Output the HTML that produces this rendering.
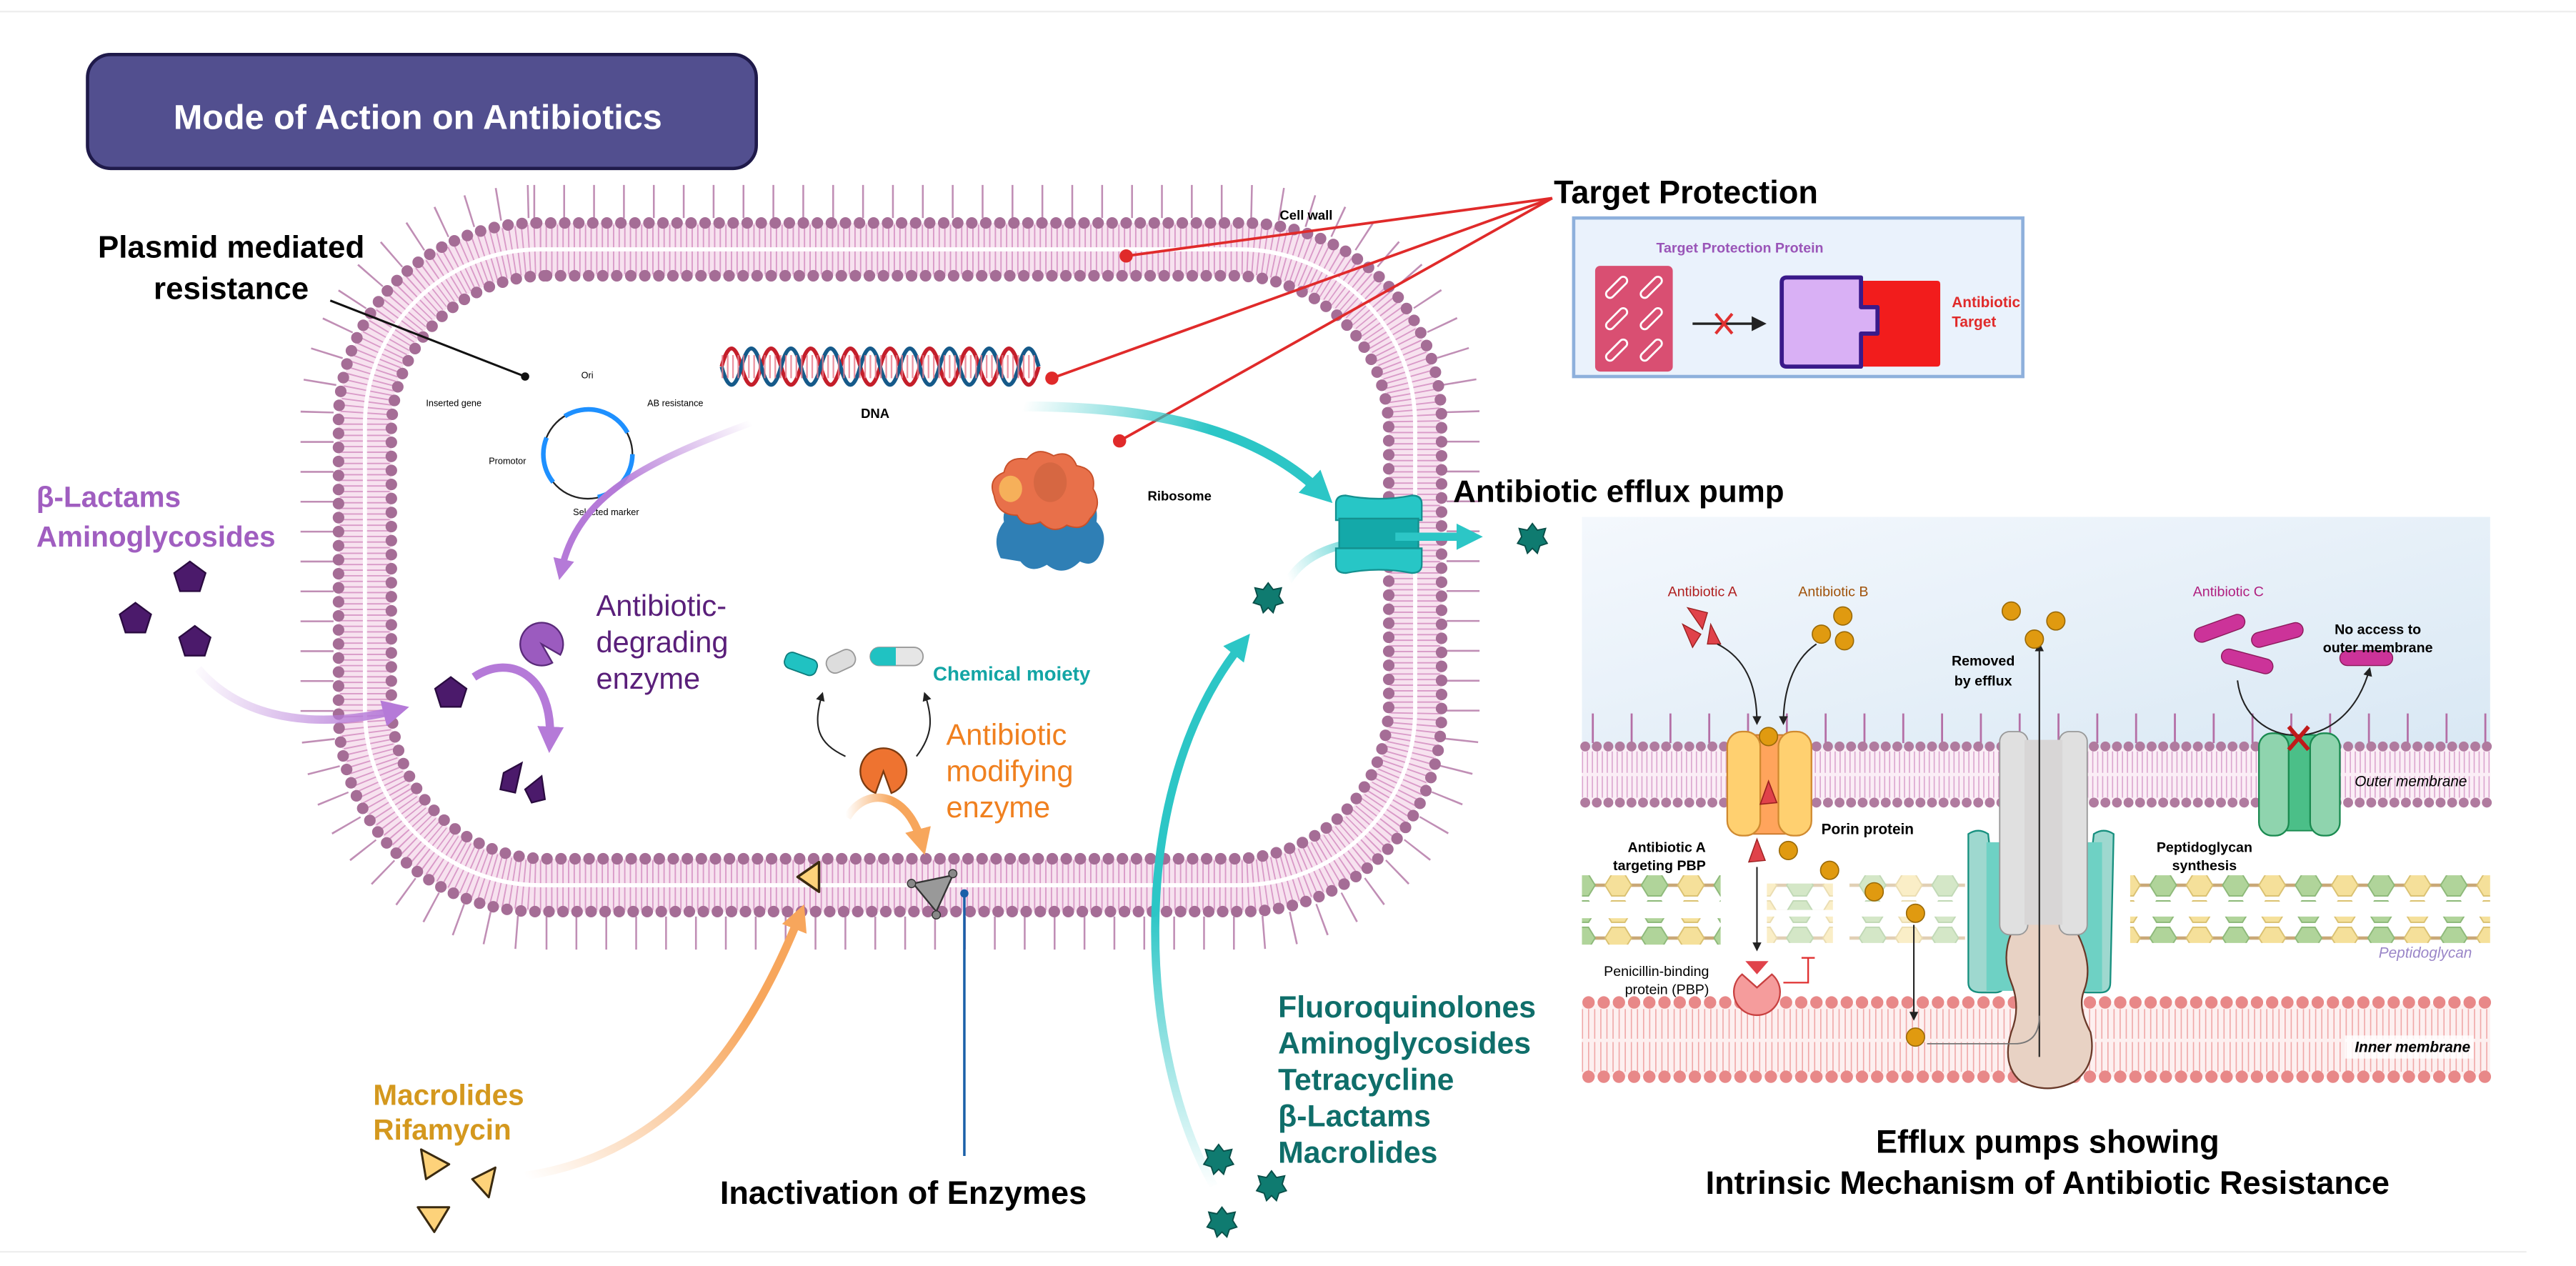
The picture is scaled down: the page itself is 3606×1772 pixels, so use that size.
<!DOCTYPE html>
<html><head><meta charset="utf-8"><style>
html,body{margin:0;padding:0;background:#fff;}
svg{display:block;}
text{font-family:"Liberation Sans",sans-serif;}
</style></head><body>
<svg width="3606" height="1772" viewBox="0 0 1560 766.6" preserveAspectRatio="none" xmlns="http://www.w3.org/2000/svg">
<defs>
<marker id="mk" viewBox="0 0 10 10" refX="8" refY="5" markerWidth="6" markerHeight="6" orient="auto"><path d="M0,0L10,5L0,10z" fill="#222"/></marker>
<marker id="mp" viewBox="0 0 10 10" refX="5" refY="5" markerWidth="3.2" markerHeight="3.2" orient="auto"><path d="M0,0L10,5L0,10z" fill="#b57ad8"/></marker>
<marker id="mo" viewBox="0 0 10 10" refX="5" refY="5" markerWidth="3.2" markerHeight="3.2" orient="auto"><path d="M0,0L10,5L0,10z" fill="#f7a65c"/></marker>
<marker id="mt" viewBox="0 0 10 10" refX="5" refY="5" markerWidth="3.2" markerHeight="3.2" orient="auto"><path d="M0,0L10,5L0,10z" fill="#2cc6c6"/></marker>
<linearGradient id="gp" gradientUnits="userSpaceOnUse" x1="115" y1="405" x2="245" y2="430"><stop offset="0" stop-color="#b57ad8" stop-opacity="0"/><stop offset="1" stop-color="#b57ad8"/></linearGradient>
<linearGradient id="gp2" gradientUnits="userSpaceOnUse" x1="455" y1="256" x2="340" y2="350"><stop offset="0" stop-color="#b57ad8" stop-opacity="0"/><stop offset=".6" stop-color="#b57ad8"/></linearGradient>
<linearGradient id="go" gradientUnits="userSpaceOnUse" x1="318" y1="712" x2="488" y2="548"><stop offset="0" stop-color="#f7a65c" stop-opacity="0"/><stop offset=".7" stop-color="#f7a65c"/></linearGradient>
<linearGradient id="go2" gradientUnits="userSpaceOnUse" x1="512" y1="500" x2="560" y2="500"><stop offset="0" stop-color="#f7a65c" stop-opacity="0"/><stop offset=".6" stop-color="#f7a65c"/></linearGradient>
<linearGradient id="gt" gradientUnits="userSpaceOnUse" x1="620" y1="245" x2="800" y2="300"><stop offset="0" stop-color="#2cc6c6" stop-opacity="0"/><stop offset=".6" stop-color="#2cc6c6"/></linearGradient>
<linearGradient id="gt2" gradientUnits="userSpaceOnUse" x1="735" y1="720" x2="760" y2="390"><stop offset="0" stop-color="#2cc6c6" stop-opacity="0"/><stop offset=".5" stop-color="#2cc6c6"/></linearGradient>
<linearGradient id="gt3" gradientUnits="userSpaceOnUse" x1="780" y1="350" x2="840" y2="325"><stop offset="0" stop-color="#2cc6c6" stop-opacity="0"/><stop offset="1" stop-color="#2cc6c6"/></linearGradient>
<linearGradient id="gbg" x1="0" y1="0" x2="1" y2="1"><stop offset="0" stop-color="#f4f8fd"/><stop offset="1" stop-color="#d9e8f4"/></linearGradient>
<pattern id="hexA" x="0" y="0" width="44" height="16" patternUnits="userSpaceOnUse">
<line x1="0" y1="8" x2="44" y2="8" stroke="#c9a877" stroke-width="2"/>
<polygon points="4,8 8,1.5 16,1.5 20,8 16,14.5 8,14.5" fill="#f5e09a" stroke="#d9c070" stroke-width=".8"/>
<polygon points="26,8 30,1.5 38,1.5 42,8 38,14.5 30,14.5" fill="#b0d49a" stroke="#8cb878" stroke-width=".8"/>
</pattern>
<g id="star"><polygon points="0,-9 3,-5 8,-6 6.5,-1 9,3 4.5,4.5 3,9 0,6 -3,9 -4.5,4.5 -9,3 -6.5,-1 -8,-6 -3,-5" fill="#0f7b70" stroke="#094e48" stroke-width=".8"/></g>
<g id="pent"><polygon points="0,-10 9.5,-3 6,8 -6,8 -9.5,-3" fill="#4b1a6b" stroke="#2a0b40" stroke-width="1"/></g>
</defs>

<line x1="0" y1="7" x2="1560" y2="7" stroke="#eee" stroke-width="1"/>
<line x1="0" y1="758" x2="1530" y2="758" stroke="#eee" stroke-width="1"/>

<!-- Title -->
<rect x="53" y="33" width="405" height="69" rx="14" fill="#524f8f" stroke="#1f1a4a" stroke-width="2"/>
<text x="253" y="78" text-anchor="middle" font-size="21" font-weight="bold" fill="#fff">Mode of Action on Antibiotics</text>

<!-- Cell membrane -->
<rect x="192" y="122" width="694" height="443" rx="131" fill="none" stroke="#b57aa8" stroke-width="20" stroke-dasharray="1.1 17" stroke-opacity=".85"/>
<rect x="203" y="133" width="672" height="421" rx="120" fill="#fff" stroke="none"/>
<rect x="221" y="151" width="636" height="385" rx="106" fill="none" stroke="#f7e2ef" stroke-width="32"/>
<rect x="221" y="151" width="636" height="385" rx="106" fill="none" stroke="#d99ac8" stroke-width="30" stroke-dasharray=".8 2.6"/>
<rect x="221" y="151" width="636" height="385" rx="106" fill="none" stroke="#fff" stroke-width="2.5"/>
<rect x="205" y="135" width="668" height="417" rx="120" fill="none" stroke="#a56d96" stroke-width="7" stroke-dasharray="0 8.5" stroke-linecap="round"/>
<rect x="237" y="167" width="604" height="353" rx="94" fill="#fff" stroke="#a56d96" stroke-width="7" stroke-dasharray="0 8.5" stroke-linecap="round"/>
<text x="775" y="133" font-size="8" font-weight="bold">Cell wall</text>

<!-- Plasmid -->
<text x="140" y="156" text-anchor="middle" font-size="19" font-weight="bold">Plasmid mediated</text>
<text x="140" y="181" text-anchor="middle" font-size="19" font-weight="bold">resistance</text>
<line x1="200" y1="182" x2="318" y2="228" stroke="#111" stroke-width="1.3"/>
<circle cx="318" cy="228" r="2.5" fill="#111"/>
<circle cx="356" cy="275" r="27" fill="none" stroke="#222" stroke-width="1"/>
<path d="M342,252 A27,27 0 0 1 380,262" fill="none" stroke="#1e90ff" stroke-width="2.8"/>
<path d="M383,275 A27,27 0 0 1 362,301" fill="none" stroke="#1e90ff" stroke-width="2.8"/>
<path d="M335,292 A27,27 0 0 1 331,265" fill="none" stroke="#1e90ff" stroke-width="2.8"/>
<text x="352" y="229" font-size="5.5">Ori</text>
<text x="258" y="246" font-size="5.5">Inserted gene</text>
<text x="392" y="246" font-size="5.5">AB resistance</text>
<text x="296" y="281" font-size="5.5">Promotor</text>
<text x="347" y="312" font-size="5.5">Selected marker</text>

<!-- DNA -->
<g fill="none" stroke-width="2.4">
<path d="M437,222 q6,-22 12,0 t12,0 t12,0 t12,0 t12,0 t12,0 t12,0 t12,0 t12,0 t12,0 t12,0 t12,0 t12,0 t12,0 t12,0 t12,0" stroke="#c41e2a"/>
<path d="M437,222 q6,22 12,0 t12,0 t12,0 t12,0 t12,0 t12,0 t12,0 t12,0 t12,0 t12,0 t12,0 t12,0 t12,0 t12,0 t12,0 t12,0" stroke="#155a8a"/>
</g>
<line x1="437" y1="222" x2="629" y2="222" stroke="#e87a8a" stroke-width="14" stroke-dasharray="1 2.2" opacity=".8"/>
<text x="530" y="253" text-anchor="middle" font-size="8" font-weight="bold">DNA</text>

<!-- Target protection lines -->
<g stroke="#e02a2a" stroke-width="1.6">
<line x1="682" y1="155" x2="940" y2="120"/>
<line x1="637" y1="229" x2="940" y2="120"/>
<line x1="678" y1="267" x2="940" y2="120"/>
</g>
<circle cx="682" cy="155" r="4" fill="#e02a2a"/>
<circle cx="637" cy="229" r="4" fill="#e02a2a"/>
<circle cx="678" cy="267" r="4" fill="#e02a2a"/>

<!-- Ribosome -->
<g>
<path d="M606,318 q-6,-12 2,-22 q-2,-10 10,-12 q6,-10 18,-4 q10,-6 18,2 q12,0 10,14 q8,8 2,20 q-4,8 -12,4 q-10,10 -20,2 q-10,6 -16,-2z" fill="#2f7fb5" transform="translate(0,20)"/>
<path d="M602,300 q-4,-10 6,-14 q2,-10 14,-8 q6,-8 16,-2 q10,-4 14,6 q12,2 10,14 q6,10 -2,18 q-4,8 -14,4 q-8,6 -16,-2 q-10,4 -14,-4 q-12,0 -14,-12z" fill="#e8704a" stroke="#c8502a" stroke-width=".8"/>
<ellipse cx="612" cy="296" rx="7" ry="8" fill="#f6b05a"/>
<ellipse cx="636" cy="292" rx="10" ry="12" fill="#c9603e" opacity=".6"/>
</g>
<text x="695" y="303" font-size="8" font-weight="bold">Ribosome</text>

<!-- Teal arrows -->
<path d="M618,246 C700,246 760,260 800,298" fill="none" stroke="url(#gt)" stroke-width="6" marker-end="url(#mt)"/>
<path d="M735,718 C690,640 680,480 752,390" fill="none" stroke="url(#gt2)" stroke-width="5" marker-end="url(#mt)"/>
<path d="M780,352 C790,335 810,328 840,326" fill="none" stroke="url(#gt3)" stroke-width="5"/>
<g stroke="#14908f" stroke-width="1">
<path d="M809,305 q0,-5 6,-5 q20,4 40,0 q6,0 6,5 v10 h-52z" fill="#27c6c6"/>
<rect x="811" y="314" width="48" height="18" fill="#14a9a9"/>
<path d="M809,332 h52 v10 q0,5 -6,5 q-20,-4 -40,0 q-6,0 -6,-5z" fill="#27c6c6"/>
</g>
<line x1="845" y1="325" x2="890" y2="325" stroke="#2cc6c6" stroke-width="5" marker-end="url(#mt)"/>
<use href="#star" x="928" y="326"/>
<use href="#star" x="768" y="362"/>
<use href="#star" x="738" y="702"/>
<use href="#star" x="770" y="718"/>
<use href="#star" x="740" y="740"/>
<text x="880" y="304" font-size="19" font-weight="bold">Antibiotic efflux pump</text>

<g font-size="18.5" font-weight="bold" fill="#0f6e6a">
<text x="774" y="616">Fluoroquinolones</text>
<text x="774" y="638">Aminoglycosides</text>
<text x="774" y="660">Tetracycline</text>
<text x="774" y="682">β-Lactams</text>
<text x="774" y="704">Macrolides</text>
</g>

<!-- Beta-lactams -->
<g font-size="17.5" font-weight="bold" fill="#a05ec0">
<text x="22" y="307">β-Lactams</text>
<text x="22" y="331">Aminoglycosides</text>
</g>
<use href="#pent" x="115" y="350"/>
<use href="#pent" x="82" y="375"/>
<use href="#pent" x="118" y="389"/>
<path d="M120,405 C150,440 200,440 240,430" fill="none" stroke="url(#gp)" stroke-width="5" marker-end="url(#mp)"/>
<use href="#pent" x="273" y="420"/>
<path d="M287,410 C310,395 335,410 333,448" fill="none" stroke="#b57ad8" stroke-width="5" marker-end="url(#mp)"/>
<polygon points="305,468 316,462 312,480 303,478" fill="#4b1a6b" stroke="#2a0b40"/>
<polygon points="318,478 328,470 330,484 322,486" fill="#4b1a6b" stroke="#2a0b40"/>
<path d="M455,256 C390,280 350,300 340,345" fill="none" stroke="url(#gp2)" stroke-width="4" marker-end="url(#mp)"/>
<path d="M328,390 L339.3,396.5 A13,13 0 1 0 334.5,401.3 Z" fill="#9b5bbf" stroke="#5a2a7a" stroke-width="1"/>
<g font-size="18" fill="#5a1f7a">
<text x="361" y="373">Antibiotic-</text>
<text x="361" y="395">degrading</text>
<text x="361" y="417">enzyme</text>
</g>

<!-- Modifying enzyme -->
<g>
<rect x="475" y="397" width="20" height="10" rx="4" fill="#20c2c2" stroke="#0e7d7d" stroke-width=".8" transform="rotate(20 485 402)"/>
<rect x="500" y="395" width="18" height="11" rx="5" fill="#ddd" stroke="#999" stroke-width=".8" transform="rotate(-25 509 400)"/>
<rect x="527" y="392" width="32" height="11" rx="5.5" fill="#e6e6e6" stroke="#999" stroke-width=".8"/>
<path d="M532.5,392 h10 v11 h-10 a5.5,5.5 0 0 1 0,-11z" fill="#20c2c2"/>
</g>
<text x="565" y="412" font-size="12" font-weight="bold" fill="#13a5a5">Chemical moiety</text>
<path d="M512,458 C495,450 492,440 498,420" fill="none" stroke="#222" stroke-width=".9" marker-end="url(#mk)"/>
<path d="M555,458 C565,445 565,435 560,420" fill="none" stroke="#222" stroke-width=".9" marker-end="url(#mk)"/>
<path d="M535,467 L530.2,480.2 A14,14 0 1 1 539.8,480.2 Z" fill="#ee7330" stroke="#7a3a10" stroke-width="1"/>
<g font-size="18" fill="#f0801f">
<text x="573" y="451">Antibiotic</text>
<text x="573" y="473">modifying</text>
<text x="573" y="495">enzyme</text>
</g>
<path d="M513,495 C525,475 550,480 558,510" fill="none" stroke="url(#go2)" stroke-width="5" marker-end="url(#mo)"/>
<polygon points="496,522 496,540 483,531" fill="#fdd27a" stroke="#3a2a10" stroke-width="1.5" stroke-linejoin="round"/>
<polygon points="553,535 577,530 567,552" fill="#999" stroke="#333" stroke-width="1"/>
<circle cx="552" cy="535" r="2.5" fill="#888" stroke="#333" stroke-width=".6"/>
<circle cx="577" cy="529" r="2.5" fill="#888" stroke="#333" stroke-width=".6"/>
<circle cx="567" cy="554" r="2.5" fill="#888" stroke="#333" stroke-width=".6"/>
<line x1="584" y1="541" x2="584" y2="700" stroke="#1a5fa8" stroke-width="1.5"/>
<circle cx="584" cy="541" r="2.5" fill="#1a5fa8"/>
<text x="436" y="729" font-size="19.5" font-weight="bold">Inactivation of Enzymes</text>

<!-- Macrolides -->
<g font-size="17.5" font-weight="bold" fill="#d4981e">
<text x="226" y="669">Macrolides</text>
<text x="226" y="690">Rifamycin</text>
</g>
<polygon points="255,696 272,705 258,714" fill="#fdd27a" stroke="#3a2a10" stroke-width="1.3" stroke-linejoin="round"/>
<polygon points="300,707 296,725 286,714" fill="#fdd27a" stroke="#3a2a10" stroke-width="1.3" stroke-linejoin="round"/>
<polygon points="253,731 272,731 263,746" fill="#fdd27a" stroke="#3a2a10" stroke-width="1.3" stroke-linejoin="round"/>
<path d="M318,712 C400,700 450,640 484,555" fill="none" stroke="url(#go)" stroke-width="5" marker-end="url(#mo)"/>

<!-- Target Protection -->
<text x="941" y="123" font-size="19.5" font-weight="bold">Target Protection</text>
<rect x="953" y="132" width="272" height="96" fill="#eaf2fc" stroke="#8eb0dc" stroke-width="2"/>
<text x="1003" y="153" font-size="8.5" font-weight="bold" fill="#9a55b8">Target Protection Protein</text>
<rect x="966" y="161" width="47" height="64" rx="3" fill="#d94f72"/>
<g stroke="#fff" stroke-width="6" stroke-linecap="round">
<line x1="975" y1="178" x2="983" y2="170"/><line x1="996" y1="178" x2="1004" y2="170"/>
<line x1="975" y1="197" x2="983" y2="189"/><line x1="996" y1="197" x2="1004" y2="189"/>
<line x1="975" y1="216" x2="983" y2="208"/><line x1="996" y1="216" x2="1004" y2="208"/>
</g>
<g stroke="#d94f72" stroke-width="3.6" stroke-linecap="round">
<line x1="975" y1="178" x2="983" y2="170"/><line x1="996" y1="178" x2="1004" y2="170"/>
<line x1="975" y1="197" x2="983" y2="189"/><line x1="996" y1="197" x2="1004" y2="189"/>
<line x1="975" y1="216" x2="983" y2="208"/><line x1="996" y1="216" x2="1004" y2="208"/>
</g>
<line x1="1025" y1="196" x2="1068" y2="196" stroke="#222" stroke-width="1.5" marker-end="url(#mk)"/>
<path d="M1039,190 l10,12 M1049,190 l-10,12" stroke="#e03030" stroke-width="1.8"/>
<path d="M1128,170 h45 q2,0 2,2 v48 q0,2 -2,2 h-45 v-20 h10 v-12 h-10z" fill="#f21c1c"/>
<path d="M1082,168 h45 v18 h10 v16 h-10 v20 h-45 q-3,0 -3,-3 v-48 q0,-3 3,-3z" fill="#d9b0f5" stroke="#3a1a8a" stroke-width="2.5" stroke-linejoin="round"/>
<text x="1182" y="186" font-size="9" font-weight="bold" fill="#e02a2a">Antibiotic</text>
<text x="1182" y="198" font-size="9" font-weight="bold" fill="#e02a2a">Target</text>

<!-- Right panel -->
<rect x="958" y="313" width="550" height="142" fill="url(#gbg)"/>
<line x1="960" y1="441" x2="1508" y2="441" stroke="#b46fa6" stroke-width="18" stroke-dasharray="1.2 22.3" stroke-dashoffset="-4"/>
<rect x="958" y="453" width="550" height="32" fill="#fbeef6"/>
<line x1="958" y1="469" x2="1508" y2="469" stroke="#dba6cf" stroke-width="28" stroke-dasharray=".7 2.3"/>
<line x1="958" y1="469" x2="1508" y2="469" stroke="#fbeef6" stroke-width="2"/>
<line x1="960" y1="452" x2="1508" y2="452" stroke="#b07b9f" stroke-width="6" stroke-dasharray="0 7" stroke-linecap="round"/>
<line x1="960" y1="486" x2="1508" y2="486" stroke="#b07b9f" stroke-width="6" stroke-dasharray="0 7" stroke-linecap="round"/>
<text x="1494" y="476" text-anchor="end" font-size="9" font-style="italic">Outer membrane</text>
<!-- peptidoglycan -->
<rect x="958" y="530" width="84" height="16" fill="url(#hexA)"/>
<rect x="958" y="556" width="84" height="16" fill="url(#hexA)"/>
<rect x="1070" y="535" width="40" height="16" fill="url(#hexA)" opacity=".55"/>
<rect x="1070" y="555" width="40" height="16" fill="url(#hexA)" opacity=".55"/>
<rect x="1120" y="530" width="70" height="16" fill="url(#hexA)" opacity=".55"/>
<rect x="1120" y="555" width="70" height="16" fill="url(#hexA)" opacity=".55"/>
<rect x="1290" y="530" width="218" height="16" fill="url(#hexA)"/>
<rect x="1290" y="555" width="218" height="16" fill="url(#hexA)"/>
<text x="1497" y="580" text-anchor="end" font-size="9" font-style="italic" fill="#9a86c8">Peptidoglycan</text>
<!-- inner membrane -->
<rect x="958" y="608" width="550" height="44" fill="#fdf0f0"/>
<line x1="958" y1="630" x2="1508" y2="630" stroke="#f0a8a8" stroke-width="38" stroke-dasharray=".7 3"/>
<line x1="958" y1="630" x2="1508" y2="630" stroke="#fdf0f0" stroke-width="2"/>
<line x1="962" y1="607" x2="1508" y2="607" stroke="#e88888" stroke-width="7.5" stroke-dasharray="0 9.2" stroke-linecap="round"/>
<line x1="962" y1="652" x2="1508" y2="652" stroke="#e88888" stroke-width="7.5" stroke-dasharray="0 9.2" stroke-linecap="round"/>
<rect x="1420" y="627" width="78" height="14" fill="#fff" opacity=".8"/>
<text x="1496" y="637" text-anchor="end" font-size="9" font-weight="bold" font-style="italic">Inner membrane</text>

<!-- porin -->
<rect x="1060" y="445" width="22" height="60" fill="#ffa45c" stroke="#c8782a" stroke-width=".8"/>
<rect x="1046" y="443" width="20" height="63" rx="9" fill="#ffd070" stroke="#d08a30" stroke-width="1"/>
<rect x="1077" y="443" width="20" height="63" rx="9" fill="#ffd070" stroke="#d08a30" stroke-width="1"/>
<circle cx="1071" cy="446" r="5.5" fill="#e09a10" stroke="#9a6a08" stroke-width=".7"/>
<polygon points="1071,473 1076,486 1066,487" fill="#e0424a" stroke="#9a2020" stroke-width=".7"/>
<text x="1103" y="505" font-size="9" font-weight="bold">Porin protein</text>
<text x="1010" y="361" font-size="8.5" fill="#b02020">Antibiotic A</text>
<text x="1089" y="361" font-size="8.5" fill="#a0520a">Antibiotic B</text>
<polygon points="1022,368 1034,371 1031,381" fill="#e0424a" stroke="#9a2020" stroke-width=".6"/>
<polygon points="1019,378 1030,384 1025,392" fill="#e0424a" stroke="#9a2020" stroke-width=".6"/>
<polygon points="1036,378 1042,390 1034,390" fill="#e0424a" stroke="#9a2020" stroke-width=".6"/>
<circle cx="1116" cy="373" r="5.5" fill="#e09a10" stroke="#9a6a08" stroke-width=".7"/>
<circle cx="1103" cy="384" r="5.5" fill="#e09a10" stroke="#9a6a08" stroke-width=".7"/>
<circle cx="1117" cy="388" r="5.5" fill="#e09a10" stroke="#9a6a08" stroke-width=".7"/>
<path d="M1040,390 C1060,400 1064,420 1064,438" fill="none" stroke="#222" stroke-width=".9" marker-end="url(#mk)"/>
<path d="M1100,390 C1085,400 1080,420 1080,438" fill="none" stroke="#222" stroke-width=".9" marker-end="url(#mk)"/>
<text x="1033" y="516" text-anchor="end" font-size="8.5" font-weight="bold">Antibiotic A</text>
<text x="1033" y="527" text-anchor="end" font-size="8.5" font-weight="bold">targeting PBP</text>
<polygon points="1064,508 1069,521 1059,522" fill="#e0424a" stroke="#9a2020" stroke-width=".6"/>
<circle cx="1083" cy="515" r="5.5" fill="#e09a10" stroke="#9a6a08" stroke-width=".7"/>
<circle cx="1108" cy="527" r="5.5" fill="#e09a10" stroke="#9a6a08" stroke-width=".7"/>
<circle cx="1135" cy="540" r="5.5" fill="#e09a10" stroke="#9a6a08" stroke-width=".7"/>
<circle cx="1160" cy="553" r="5.5" fill="#e09a10" stroke="#9a6a08" stroke-width=".7"/>
<circle cx="1160" cy="628" r="5.5" fill="#e09a10" stroke="#9a6a08" stroke-width=".7"/>
<line x1="1064" y1="525" x2="1064" y2="575" stroke="#222" stroke-width=".9" marker-end="url(#mk)"/>
<line x1="1159" y1="560" x2="1159" y2="617" stroke="#222" stroke-width=".9" marker-end="url(#mk)"/>
<path d="M1055,590 L1064,598 L1073,590 A14,14 0 1 1 1055,590Z" fill="#f59c9c" stroke="#c84040" stroke-width="1"/>
<polygon points="1057,582 1071,582 1064,590" fill="#e0424a"/>
<path d="M1080,595 h15 v-15 m-4,0 h8" fill="none" stroke="#e03030" stroke-width="1"/>
<text x="1035" y="591" text-anchor="end" font-size="8.5">Penicillin-binding</text>
<text x="1035" y="602" text-anchor="end" font-size="8.5">protein (PBP)</text>

<!-- efflux complex -->
<path d="M1192,505 q6,-4 12,0 l10,90 q0,6 -6,6 h-8 q-8,0 -8,-6z" fill="#9ed8cf" stroke="#17907f" stroke-width="1"/>
<path d="M1268,505 q6,-4 12,0 l-2,90 q0,6 -6,6 h-8 q-6,0 -6,-6z" fill="#9ed8cf" stroke="#17907f" stroke-width="1"/>
<rect x="1203" y="510" width="70" height="90" fill="#6ed1c4"/>
<path d="M1218,565 q20,-15 40,0 q10,20 4,35 q-4,10 4,25 q4,20 -10,30 q-16,8 -32,0 q-12,-10 -6,-30 q6,-15 0,-30 q-6,-15 0,-30z" fill="#e8d2c4" stroke="#6a3a2a" stroke-width="1"/>
<rect x="1211" y="443" width="17" height="123" rx="6" fill="#e0e0e0" stroke="#999" stroke-width=".8"/>
<rect x="1247" y="443" width="17" height="123" rx="6" fill="#e0e0e0" stroke="#999" stroke-width=".8"/>
<rect x="1226" y="448" width="23" height="112" fill="#d8d6d6"/>
<path d="M1235,640 V390" stroke="#222" stroke-width=".9" marker-end="url(#mk)"/>
<path d="M1167,632 H1220 Q1235,632 1235,615" fill="none" stroke="#777" stroke-width=".8"/>
<text x="1201" y="403" text-anchor="middle" font-size="8.5" font-weight="bold">Removed</text>
<text x="1201" y="415" text-anchor="middle" font-size="8.5" font-weight="bold">by efflux</text>
<circle cx="1218" cy="370" r="5.5" fill="#e09a10" stroke="#9a6a08" stroke-width=".7"/>
<circle cx="1245" cy="376" r="5.5" fill="#e09a10" stroke="#9a6a08" stroke-width=".7"/>
<circle cx="1232" cy="387" r="5.5" fill="#e09a10" stroke="#9a6a08" stroke-width=".7"/>
<text x="1335" y="516" text-anchor="middle" font-size="8.5" font-weight="bold">Peptidoglycan</text>
<text x="1335" y="527" text-anchor="middle" font-size="8.5" font-weight="bold">synthesis</text>

<!-- Antibiotic C -->
<text x="1328" y="361" font-size="8.5" fill="#b02080">Antibiotic C</text>
<g stroke="#8a1a5a" stroke-width=".6" fill="#cc3399">
<rect x="1328" y="376" width="32" height="9" rx="4.5" transform="rotate(-20 1344 380)"/>
<rect x="1363" y="380" width="32" height="9" rx="4.5" transform="rotate(-15 1379 384)"/>
<rect x="1345" y="396" width="32" height="9" rx="4.5" transform="rotate(15 1361 400)"/>
<rect x="1417" y="394" width="32" height="9" rx="4.5"/>
</g>
<text x="1440" y="384" text-anchor="middle" font-size="8.5" font-weight="bold">No access to</text>
<text x="1440" y="395" text-anchor="middle" font-size="8.5" font-weight="bold">outer membrane</text>
<rect x="1380" y="445" width="26" height="58" fill="#4bbf88" stroke="#1a8a50" stroke-width=".8"/>
<rect x="1368" y="444" width="18" height="62" rx="8" fill="#8fd4ae" stroke="#1a8a50" stroke-width="1"/>
<rect x="1399" y="444" width="18" height="62" rx="8" fill="#8fd4ae" stroke="#1a8a50" stroke-width="1"/>
<path d="M1355,412 C1360,455 1420,460 1435,405" fill="none" stroke="#222" stroke-width=".9" marker-end="url(#mk)"/>
<path d="M1386,440 l12,14 M1398,440 l-12,14" stroke="#c01a1a" stroke-width="2.5"/>

<text x="1240" y="698" text-anchor="middle" font-size="19.5" font-weight="bold">Efflux pumps showing</text>
<text x="1240" y="723" text-anchor="middle" font-size="19.5" font-weight="bold">Intrinsic Mechanism of Antibiotic Resistance</text>
</svg>
</body></html>
